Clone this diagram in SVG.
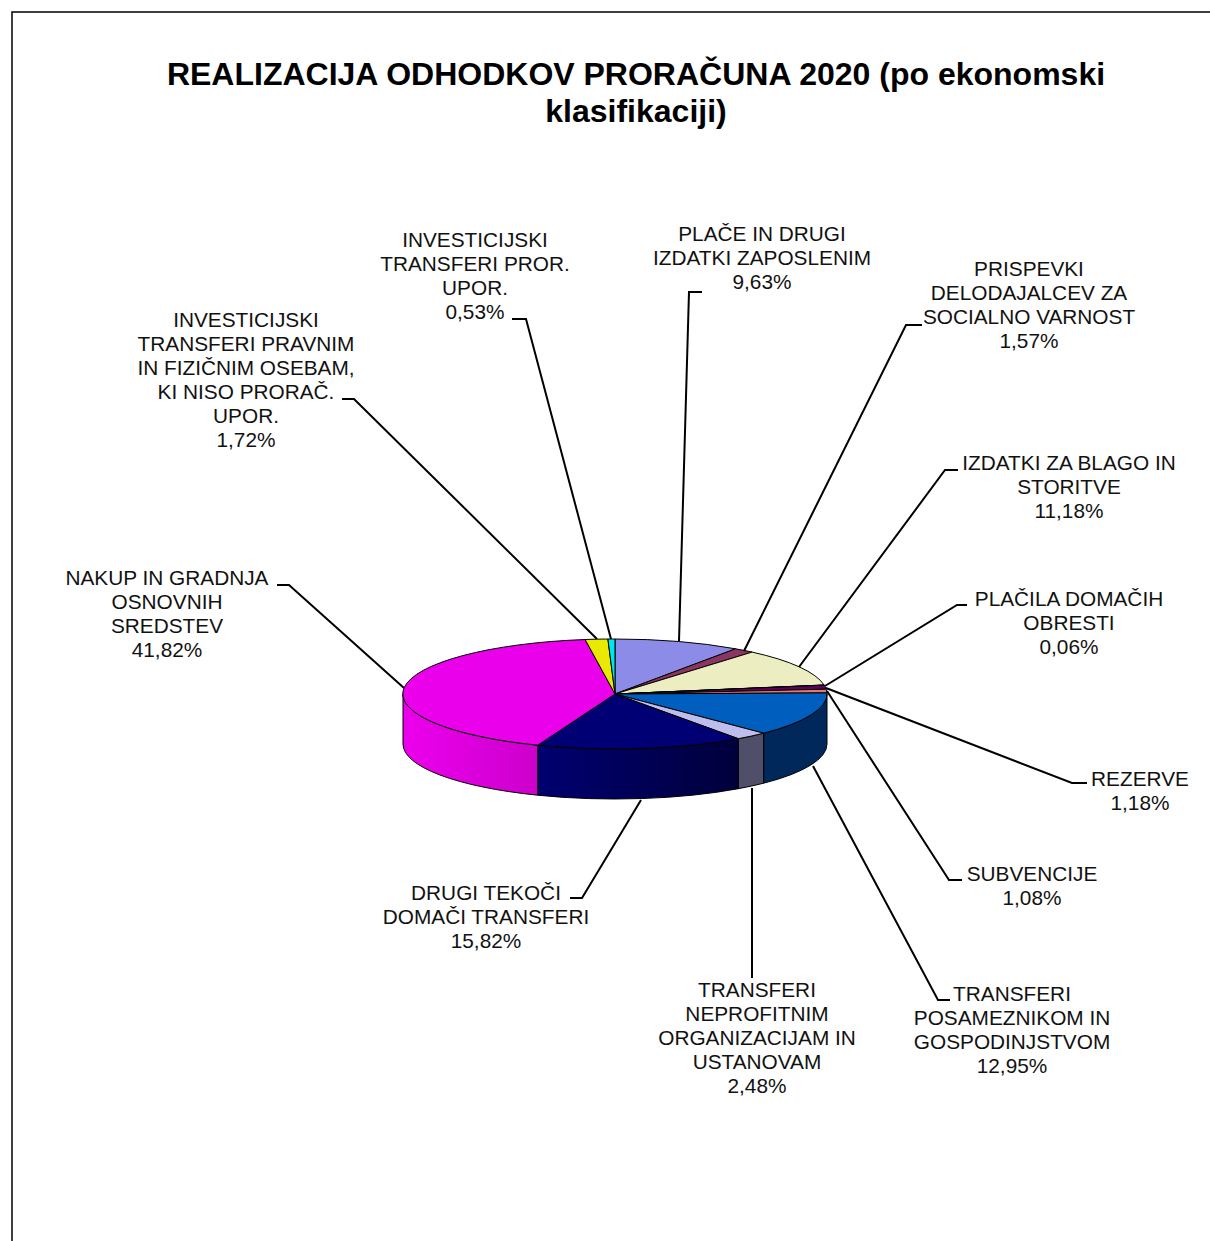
<svg xmlns="http://www.w3.org/2000/svg" width="1210" height="1241" viewBox="0 0 1210 1241">
<defs>
<style>
.lbl{font-family:"Liberation Sans",Arial,sans-serif;font-size:20.8px;fill:#111;text-anchor:middle}
.ttl{font-family:"Liberation Sans",Arial,sans-serif;font-size:32px;font-weight:bold;fill:#000;text-anchor:middle}
.sl{stroke:#000;stroke-width:1;stroke-linejoin:round}
.ld{fill:none;stroke:#000;stroke-width:2}
</style>
<linearGradient id="gMag" gradientUnits="userSpaceOnUse" x1="403" y1="0" x2="538" y2="0"><stop offset="0" stop-color="#EC00EC"/><stop offset="1" stop-color="#CC00CC"/></linearGradient>
<linearGradient id="gNavy" gradientUnits="userSpaceOnUse" x1="538" y1="0" x2="738" y2="0"><stop offset="0" stop-color="#000070"/><stop offset="1" stop-color="#00003C"/></linearGradient>
</defs>
<rect width="1210" height="1241" fill="#fff"/>
<path d="M12,1241 V12 H1210" fill="none" stroke="#000" stroke-width="1.5"/>
<g id="title">
<text class="ttl" x="636" y="85">REALIZACIJA ODHODKOV PRORAČUNA 2020 (po ekonomski</text>
<text class="ttl" x="636" y="122">klasifikaciji)</text>
</g>
<g id="pie">
<g id="sides">
<path class="sl" fill="#00285A" d="M827,694 A212,55 0 0 1 763.6,733.2 L763.6,783.2 A212,55 0 0 0 827,744 Z"/>
<path class="sl" fill="#4F4F6A" d="M763.6,733.2 A212,55 0 0 1 738.3,738.7 L738.3,788.7 A212,55 0 0 0 763.6,783.2 Z"/>
<path class="sl" fill="url(#gNavy)" d="M738.3,738.7 A212,55 0 0 1 537.7,745.2 L537.7,795.2 A212,55 0 0 0 738.3,788.7 Z"/>
<path class="sl" fill="url(#gMag)" d="M537.7,745.2 A212,55 0 0 1 403,694 L403,744 A212,55 0 0 0 537.7,795.2 Z"/>
</g>
<g id="s-place"><path class="sl" fill="#8C8CE8" d="M615,694 L615,639 A212,55 0 0 1 735.6,648.8 Z"/></g>
<g id="s-prispevki"><path class="sl" fill="#8C3562" d="M615,694 L735.6,648.8 A212,55 0 0 1 752.1,652.1 Z"/></g>
<g id="s-blago"><path class="sl" fill="#EDEDC2" d="M615,694 L752.1,652.1 A212,55 0 0 1 824.1,685 Z"/></g>
<g id="s-obresti"><path class="sl" fill="#C0EEEE" d="M615,694 L824.1,685 A212,55 0 0 1 824.3,685.2 Z"/></g>
<g id="s-rezerve"><path class="sl" fill="#5E005E" d="M615,694 L824.3,685.2 A212,55 0 0 1 826.2,689.2 Z"/></g>
<g id="s-subvencije"><path class="sl" fill="#EA7474" d="M615,694 L826.2,689.2 A212,55 0 0 1 827,692.9 Z"/></g>
<g id="s-posameznikom"><path class="sl" fill="#005EBE" d="M615,694 L827,692.9 A212,55 0 0 1 763.6,733.2 Z"/></g>
<g id="s-neprofitnim"><path class="sl" fill="#BEBEEE" d="M615,694 L763.6,733.2 A212,55 0 0 1 738.3,738.7 Z"/></g>
<g id="s-drugi"><path class="sl" fill="#000074" d="M615,694 L738.3,738.7 A212,55 0 0 1 537.7,745.2 Z"/></g>
<g id="s-nakup"><path class="sl" fill="#EA00EA" d="M615,694 L537.7,745.2 A212,55 0 0 1 585.1,639.5 Z"/></g>
<g id="s-invpravnim"><path class="sl" fill="#EAEA00" d="M615,694 L585.1,639.5 A212,55 0 0 1 607.9,639 Z"/></g>
<g id="s-invpror"><path class="sl" fill="#00E6F0" d="M615,694 L607.9,639 A212,55 0 0 1 615,639 Z"/></g>
</g>
<g id="connectors">
<path class="ld" d="M277,585 H289 L404,688"/>
<path class="ld" d="M342,399 H354 L597,639"/>
<path class="ld" d="M512,319 H526 L611,639"/>
<path class="ld" d="M702,292 H689 L679,641"/>
<path class="ld" d="M922,325 H906 L744,651"/>
<path class="ld" d="M958,470 H945 L799,667"/>
<path class="ld" d="M967,605 H957 L825,686"/>
<path class="ld" d="M826,688 L1072,783 H1087"/>
<path class="ld" d="M827,691 L949,880 H962"/>
<path class="ld" d="M813,766 L938,1000 H950"/>
<path class="ld" d="M752,788 V978"/>
<path class="ld" d="M641,800 L582,898 H570"/>
</g>
<g id="l-nakup"><text class="lbl"><tspan x="167" y="585">NAKUP IN GRADNJA</tspan><tspan x="167" y="609">OSNOVNIH</tspan><tspan x="167" y="633">SREDSTEV</tspan><tspan x="167" y="657">41,82%</tspan></text></g>
<g id="l-invpravnim"><text class="lbl"><tspan x="246" y="327">INVESTICIJSKI</tspan><tspan x="246" y="351">TRANSFERI PRAVNIM</tspan><tspan x="246" y="375">IN FIZIČNIM OSEBAM,</tspan><tspan x="246" y="399">KI NISO PRORAČ.</tspan><tspan x="246" y="423">UPOR.</tspan><tspan x="246" y="447">1,72%</tspan></text></g>
<g id="l-invpror"><text class="lbl"><tspan x="475" y="247">INVESTICIJSKI</tspan><tspan x="475" y="271">TRANSFERI PROR.</tspan><tspan x="475" y="295">UPOR.</tspan><tspan x="475" y="319">0,53%</tspan></text></g>
<g id="l-place"><text class="lbl"><tspan x="762" y="241">PLAČE IN DRUGI</tspan><tspan x="762" y="265">IZDATKI ZAPOSLENIM</tspan><tspan x="762" y="289">9,63%</tspan></text></g>
<g id="l-prispevki"><text class="lbl"><tspan x="1029" y="276">PRISPEVKI</tspan><tspan x="1029" y="300">DELODAJALCEV ZA</tspan><tspan x="1029" y="324">SOCIALNO VARNOST</tspan><tspan x="1029" y="348">1,57%</tspan></text></g>
<g id="l-blago"><text class="lbl"><tspan x="1069" y="470">IZDATKI ZA BLAGO IN</tspan><tspan x="1069" y="494">STORITVE</tspan><tspan x="1069" y="518">11,18%</tspan></text></g>
<g id="l-obresti"><text class="lbl"><tspan x="1069" y="606">PLAČILA DOMAČIH</tspan><tspan x="1069" y="630">OBRESTI</tspan><tspan x="1069" y="654">0,06%</tspan></text></g>
<g id="l-rezerve"><text class="lbl"><tspan x="1140" y="786">REZERVE</tspan><tspan x="1140" y="810">1,18%</tspan></text></g>
<g id="l-subvencije"><text class="lbl"><tspan x="1032" y="881">SUBVENCIJE</tspan><tspan x="1032" y="905">1,08%</tspan></text></g>
<g id="l-posameznikom"><text class="lbl"><tspan x="1012" y="1001">TRANSFERI</tspan><tspan x="1012" y="1025">POSAMEZNIKOM IN</tspan><tspan x="1012" y="1049">GOSPODINJSTVOM</tspan><tspan x="1012" y="1073">12,95%</tspan></text></g>
<g id="l-neprofitnim"><text class="lbl"><tspan x="757" y="997">TRANSFERI</tspan><tspan x="757" y="1021">NEPROFITNIM</tspan><tspan x="757" y="1045">ORGANIZACIJAM IN</tspan><tspan x="757" y="1069">USTANOVAM</tspan><tspan x="757" y="1093">2,48%</tspan></text></g>
<g id="l-drugi"><text class="lbl"><tspan x="486" y="900">DRUGI TEKOČI</tspan><tspan x="486" y="924">DOMAČI TRANSFERI</tspan><tspan x="486" y="948">15,82%</tspan></text></g>
</svg>
